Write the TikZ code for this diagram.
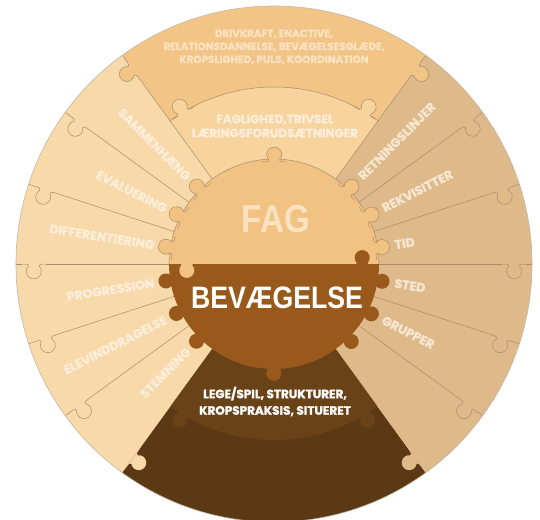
\documentclass[tikz,border=0pt]{standalone}
\usepackage{fontspec}
\setmainfont{Fira Sans}
\newfontfamily\tagfont{Poppins}[BoldFeatures={FakeBold=1.6}]
\newfontfamily\hubfont{Liberation Sans}
\usetikzlibrary{positioning}

\definecolor{fagorange}{HTML}{F2C486}
\definecolor{fagband}{HTML}{F7D39E}
\definecolor{leftlight}{HTML}{F8D9A9}
\definecolor{righttan}{HTML}{DEB98A}
\definecolor{hubtop}{HTML}{F2C283}
\definecolor{hubbrown}{HTML}{99591A}
\definecolor{darkband}{HTML}{6A4217}
\definecolor{darkouter}{HTML}{5A3914}
\definecolor{seamgray}{HTML}{A98C6C}
\definecolor{rimgray}{HTML}{C4B6A4}
\definecolor{creamtext}{HTML}{FCEDD8}
\definecolor{tantext}{HTML}{F6E6D0}
\definecolor{fagtext}{HTML}{FAE1C0}

\tikzset{seam/.style = {draw=seamgray, line width=0.5pt}}
\tikzset{slicelabel/.style = {font=\tagfont\bfseries\fontsize{12.5}{14}\selectfont, inner sep=0}}
\tikzset{blocklabel/.style = {font=\tagfont\bfseries\fontsize{10.4}{13}\selectfont, align=center, inner sep=0}}

% puzzle tab, base on the x axis, head towards +y
\newcommand{\knobpath}{(-12,0) .. controls (-6.5,0) and (-4.5,0.6) .. (-5.2,2.2)
  arc[start angle=224, end angle=-44, radius=7.5] .. controls (4.5,0.6) and (6.5,0) .. (12,0)}

% radial seam with a tab near the rim
\newcommand{\seam}[4]{%
  \begin{scope}[rotate=#1, yscale=#2]
    \draw[#4] (105,0) -- (228,0) (252,0) -- (258,0);
    \begin{scope}[shift={(240,0)}]
      \fill[#3] \knobpath -- cycle;
      \draw[#4] \knobpath;
    \end{scope}
  \end{scope}}

% tab sticking out of a circle
\newcommand{\knob}[4]{%
  \begin{scope}[shift={(#1:#2)}, rotate=#1-90]
    \fill[#3] \knobpath -- cycle;
    \draw[#4] \knobpath;
  \end{scope}}

\begin{document}
\begin{tikzpicture}[x=1pt, y=1pt]
    \useasboundingbox (-274,-255) rectangle (266,264);

    % wedges
    \fill[fagorange] (0,0) -- (54:258) arc[start angle=54, end angle=126, radius=258] -- cycle;
    \fill[leftlight] (0,0) -- (126:258) arc[start angle=126, end angle=234, radius=258] -- cycle;
    \fill[darkouter] (0,0) -- (234:258) arc[start angle=234, end angle=306, radius=258] -- cycle;
    \fill[righttan] (0,0) -- (-54:258) arc[start angle=-54, end angle=54, radius=258] -- cycle;

    % inner bands
    \fill[fagband] (0,0) -- (54:177) arc[start angle=54, end angle=126, radius=177] -- cycle;
    \draw[seam] (54:177) arc[start angle=54, end angle=126, radius=177];
    \knob{121}{176}{fagband}{seam}
    \knob{59}{176}{fagband}{seam}
    \fill[darkband] (0,0) -- (234:176) arc[start angle=234, end angle=306, radius=176] -- cycle;
    \knob{239}{175}{darkband}{draw=none}
    \knob{301}{175}{darkband}{draw=none}

    % seams
    \seam{126}{1}{fagorange}{seam}
    \foreach \ang in {144,162,180,198,216}
      \seam{\ang}{1}{leftlight}{seam};
    \seam{234}{1}{leftlight}{draw=none}
    \seam{54}{-1}{fagorange}{seam}
    \foreach \ang in {36,18,0,-18,-36}
      \seam{\ang}{-1}{righttan}{seam};
    \seam{-54}{-1}{righttan}{draw=none}

    \draw[draw=rimgray, line width=0.6pt] (0,0) circle (258);

    % hub
    \fill[hubtop] (105,0) arc[start angle=0, end angle=180, radius=105] -- cycle;
    \fill[hubbrown] (-105,0) arc[start angle=180, end angle=360, radius=105] -- cycle;
    \draw[seam] (105,0) arc[start angle=0, end angle=180, radius=105];
    \foreach \ang in {9,27,45,90,135,153,171}
      \knob{\ang}{102}{hubtop}{seam};
    \foreach \ang in {-9,-27,-45,189,207,225,270}
      \knob{\ang}{102}{hubbrown}{draw=none};
    \begin{scope}[shift={(-87,1)}, rotate=180]
      \fill[hubtop] \knobpath -- cycle;
    \end{scope}
    \begin{scope}[shift={(88,-1)}]
      \fill[hubbrown] \knobpath -- cycle;
    \end{scope}

    \node[font=\hubfont\bfseries\fontsize{39}{39}\selectfont, text=fagtext, xscale=0.85, inner sep=0] (fag) at (2,45) {FAG};
    \node[font=\hubfont\bfseries\fontsize{31}{31}\selectfont, text=white, xscale=0.86, inner sep=0] (bevaegelse) at (3,-33.5) {BEVÆGELSE};

    % texts
    \node[blocklabel, text=fagtext] (drivkraft) at (0,217)
      {DRIVKRAFT, ENACTIVE,\\RELATIONSDANNELSE, BEVÆGELSESGLÆDE,\\KROPSLIGHED, PULS, KOORDINATION};
    \node[blocklabel, text=creamtext, font=\tagfont\bfseries\fontsize{12}{14}\selectfont] (faglighed) at (1,138)
      {FAGLIGHED,TRIVSEL\\LÆRINGSFORUDSÆTNINGER};
    \node[blocklabel, text=white, font=\tagfont\bfseries\fontsize{12}{16.5}\selectfont] (lege) at (1,-137.5)
      {LEGE/SPIL, STRUKTURER,\\KROPSPRAKSIS, SITUERET};

    \foreach \ang/\txt in {135/SAMMENHÆNG, 153/EVALUERING, 171/DIFFERENTIERING,
        189/PROGRESSION, 207/ELEVINDDRAGELSE, 225/STEMNING}
      \node[slicelabel, text=creamtext, anchor=east, rotate=\ang+180] (l\ang) at (\ang:121) {\txt};
    \foreach \ang/\txt in {45/RETNINGSLINJER, 27/REKVISITTER, 9/TID, -9/STED, -27/GRUPPER}
      \node[slicelabel, text=tantext, anchor=west, rotate=\ang] (r\ang) at (\ang:122) {\txt};
\end{tikzpicture}
\end{document}
